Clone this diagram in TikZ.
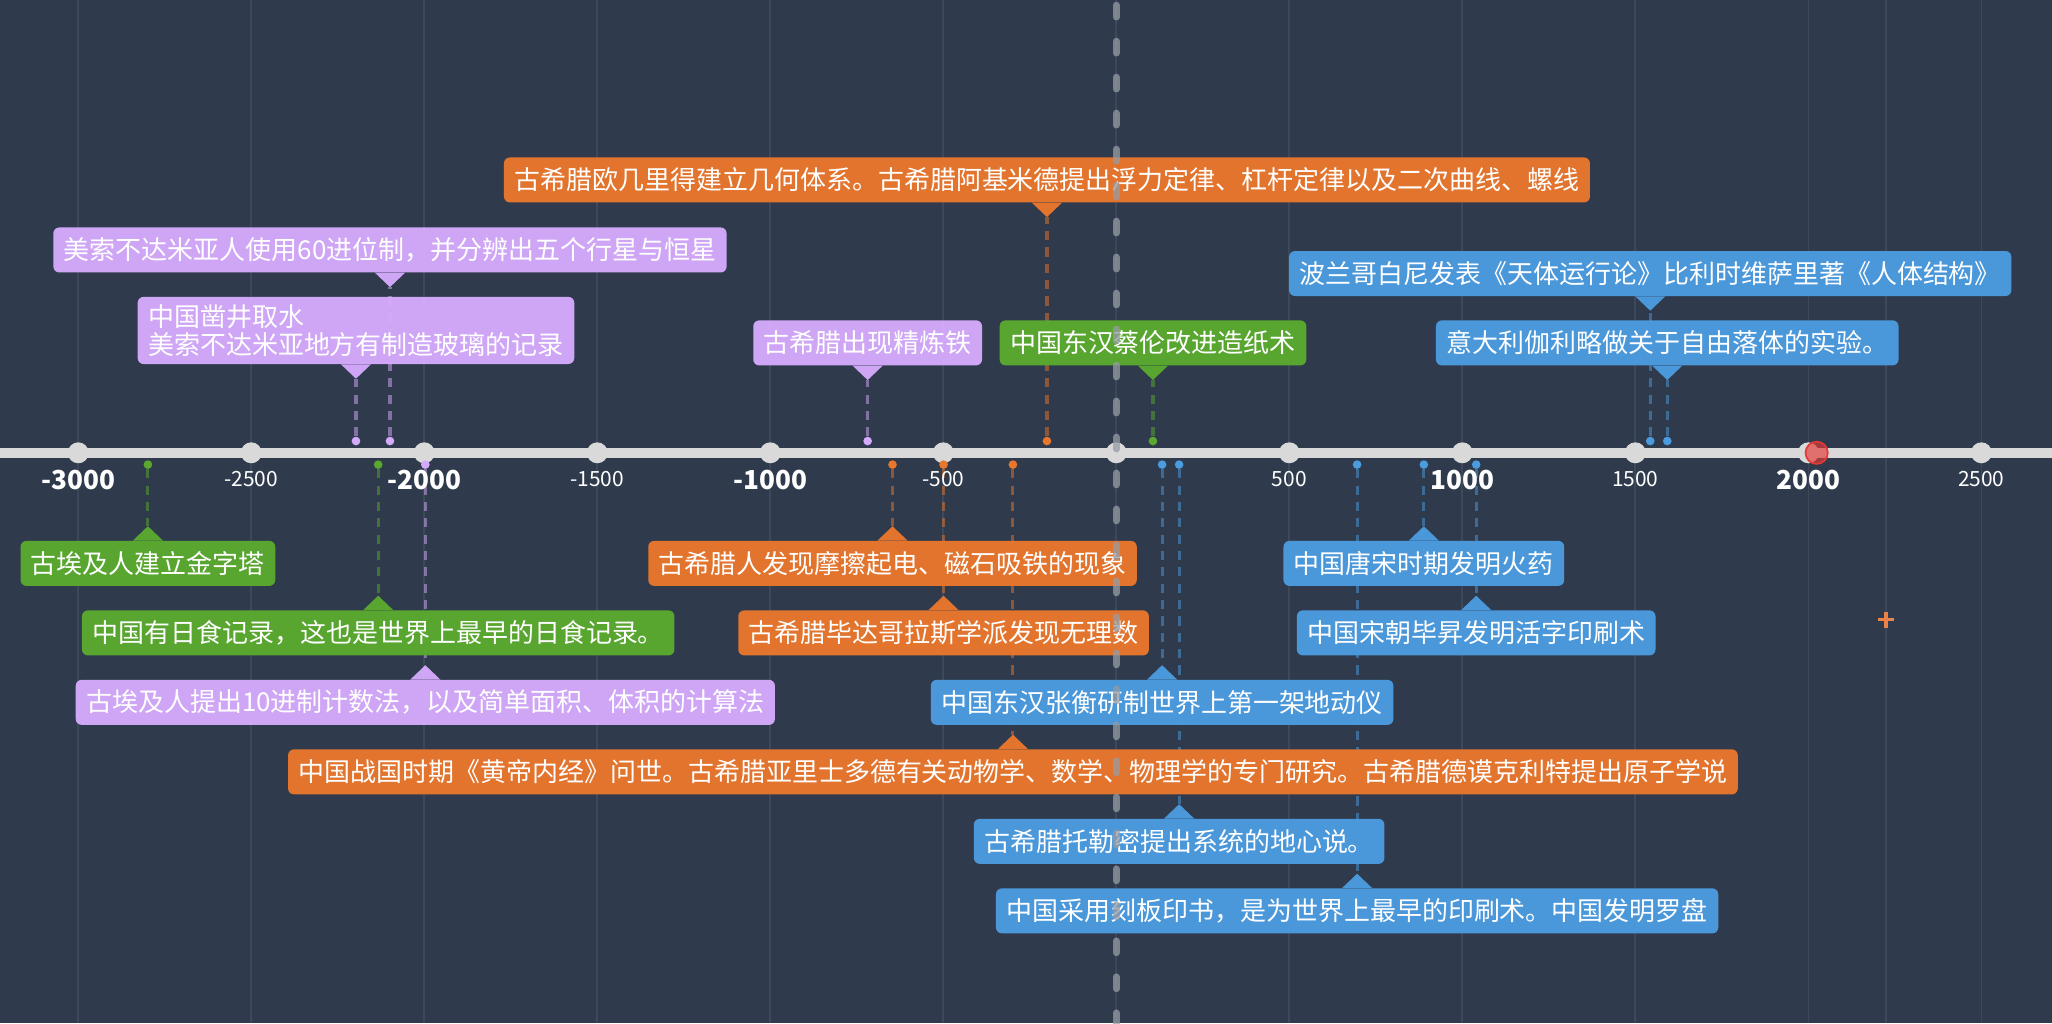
\documentclass[tikz,border=0pt]{standalone}
\usepackage{fontspec}
\setmainfont{Noto Sans CJK SC}
\usepackage{tikz}
\usetikzlibrary{positioning}

\definecolor{bgcol}{RGB}{47,59,76}
\definecolor{gridcol}{RGB}{61,73,91}
\definecolor{axiscol}{RGB}{217,217,217}
\definecolor{midcol}{RGB}{150,156,164}
\definecolor{evpurple}{RGB}{213,170,252}
\definecolor{evorange}{RGB}{232,118,44}
\definecolor{evgreen}{RGB}{90,169,47}
\definecolor{evblue}{RGB}{75,155,223}
\definecolor{nowred}{RGB}{229,57,53}
\definecolor{cursorcol}{RGB}{233,131,72}

\pgfdeclarelayer{bg}
\pgfdeclarelayer{lines}
\pgfdeclarelayer{front}
\pgfsetlayers{bg,lines,main,front}

\begin{document}
\begin{tikzpicture}[x=1pt,y=-1pt,
        evbox/.style={rounded corners=4.5pt,text=white,fill opacity=0.97,text opacity=1,
            inner xsep=8pt,inner ysep=6pt,minimum height=34.4pt,align=left,
            font=\fontsize{19.85}{21}\selectfont},
        evdot/.style={circle,inner sep=0pt,minimum size=6.6pt},
        evline/.style={line width=2.4pt,dash pattern=on 7pt off 5.5pt,draw opacity=0.5},
        tickdot/.style={circle,fill=axiscol,inner sep=0pt,minimum size=16pt},
        bigyear/.style={text=white,font=\fontsize{20}{24}\selectfont\bfseries},
        smallyear/.style={text=white,font=\fontsize{16}{19}\selectfont},
        gridline/.style={draw=gridcol,line width=1.3pt},
        midline/.style={draw=midcol,line width=5.3pt,line cap=round,
            dash pattern=on 9pt off 18.5pt,draw opacity=0.75}]
    \useasboundingbox (0,0) rectangle (1568,782);

    %% background and grid
    \begin{pgfonlayer}{bg}
        \fill[bgcol] (0,0) rectangle (1568,782);
        \foreach \yr in {-3000,-2500,...,2500}
            \draw[gridline] ({853+0.2644*\yr},0) -- ({853+0.2644*\yr},782);
        \draw[gridline] (1441,0) -- (1441,782);
    \end{pgfonlayer}

    %% axis
    \draw[draw=axiscol,line width=8pt] (0,346) -- (1568,346);
    \foreach \yr in {-3000,-2500,...,2500}
        \node[tickdot] (t\yr) at ({853+0.2644*\yr},346) {};
    \foreach \yr in {-3000,-2000,-1000,1000,2000}
        \node[bigyear] (y\yr) at ({853+0.2644*\yr},367) {\yr};
    \foreach \yr in {-2500,-1500,-500,500,1500,2500}
        \node[smallyear] (y\yr) at ({853+0.2644*\yr},366) {\yr};

    \node[circle,minimum size=17pt,inner sep=0pt,fill=nowred,fill opacity=0.65,
        draw=nowred,line width=1.3pt] (now) at ({853+0.2644*2024},346) {};

    \coordinate (cursor) at (1441,473.5);
    \draw[cursorcol,line width=2.6pt] ([yshift=6pt]cursor) -- ([yshift=-6pt]cursor)
        ([xshift=-6pt]cursor) -- ([xshift=6pt]cursor);

    %% events above the axis
    \foreach \ex/\ey/\ec/\et [count=\i] in {
        272/252.5/evpurple/{中国凿井取水\\美索不达米亚地方有制造玻璃的记录},
        298/191/evpurple/{美索不达米亚人使用60进位制，并分辨出五个行星与恒星},
        663/262/evpurple/{古希腊出现精炼铁},
        800/137.5/evorange/{古希腊欧几里得建立几何体系。古希腊阿基米德提出浮力定律、杠杆定律以及二次曲线、螺线},
        881/262/evgreen/{中国东汉蔡伦改进造纸术},
        1261/209/evblue/{波兰哥白尼发表《天体运行论》比利时维萨里著《人体结构》},
        1274/262/evblue/{意大利伽利略做关于自由落体的实验。}} {
        \node[evdot,fill=\ec] (da\i) at (\ex,337) {};
        \node[evbox,fill=\ec] (ea\i) at (\ex,\ey) {\et};
        \fill[fill=\ec,fill opacity=0.97] ([xshift=-11.5pt]ea\i.south)
            -- ([yshift=-11pt]ea\i.south) -- ([xshift=11.5pt]ea\i.south) -- cycle;
        \begin{pgfonlayer}{lines}
            \draw[evline,draw=\ec] (da\i) -- ([yshift=-11pt]ea\i.south);
        \end{pgfonlayer}
    }

    %% events below the axis
    \foreach \ex/\ey/\ec/\et [count=\i] in {
        113/430.5/evgreen/{古埃及人建立金字塔},
        289/483.6/evgreen/{中国有日食记录，这也是世界上最早的日食记录。},
        325/536.7/evpurple/{古埃及人提出10进制计数法，以及简单面积、体积的计算法},
        682/430.5/evorange/{古希腊人发现摩擦起电、磁石吸铁的现象},
        721/483.6/evorange/{古希腊毕达哥拉斯学派发现无理数},
        774/589.8/evorange/{中国战国时期《黄帝内经》问世。古希腊亚里士多德有关动物学、数学、物理学的专门研究。古希腊德谟克利特提出原子学说},
        888/536.7/evblue/{中国东汉张衡研制世界上第一架地动仪},
        901/642.9/evblue/{古希腊托勒密提出系统的地心说。},
        1037/696/evblue/{中国采用刻板印书，是为世界上最早的印刷术。中国发明罗盘},
        1088/430.5/evblue/{中国唐宋时期发明火药},
        1128/483.6/evblue/{中国宋朝毕昇发明活字印刷术}} {
        \node[evdot,fill=\ec] (db\i) at (\ex,355) {};
        \node[evbox,fill=\ec] (eb\i) at (\ex,\ey) {\et};
        \fill[fill=\ec,fill opacity=0.97] ([xshift=-11.5pt]eb\i.north)
            -- ([yshift=11pt]eb\i.north) -- ([xshift=11.5pt]eb\i.north) -- cycle;
        \begin{pgfonlayer}{lines}
            \draw[evline,draw=\ec] (db\i) -- ([yshift=11pt]eb\i.north);
        \end{pgfonlayer}
    }

    %% year zero
    \begin{pgfonlayer}{front}
        \coordinate (zerotop) at (853,4);
        \coordinate (zerobot) at (853,782);
        \draw[midline] (zerotop) -- (zerobot);
    \end{pgfonlayer}
\end{tikzpicture}
\end{document}
